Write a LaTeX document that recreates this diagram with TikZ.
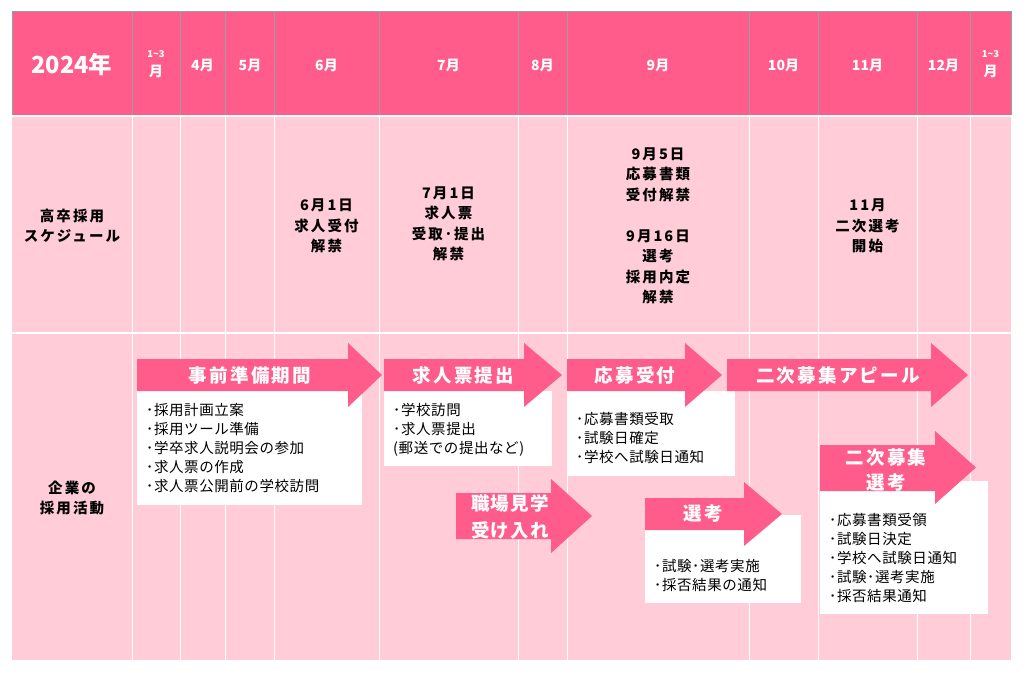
\documentclass[tikz,border=0pt]{standalone}
\usepackage{fontspec}
\setmainfont{Noto Sans CJK JP}
\definecolor{hdrpink}{RGB}{255,92,139}
\definecolor{bodypink}{RGB}{255,204,216}
\definecolor{gridgray}{RGB}{150,160,160}
\tikzset{
  hdr/.style={text=white,font=\bfseries\fontsize{14}{16}\selectfont,inner sep=0pt},
  hdrsmall/.style={text=white,font=\bfseries\fontsize{9.5}{11}\selectfont,inner sep=0pt},
  sched/.style={align=center,inner sep=0pt,font=\bfseries\fontsize{14.5}{20.5}\selectfont\addfontfeatures{LetterSpace=14}},
  arrtxt/.style={text=white,align=center,inner sep=0pt,font=\bfseries\fontsize{18.5}{27}\selectfont\addfontfeatures{LetterSpace=12}},
  boxtxt/.style={align=left,anchor=north west,inner sep=0pt,font=\fontsize{14.5}{19}\selectfont\addfontfeatures{LetterSpace=4}},
  whitebox/.style={fill=white},
  arrowfill/.style={fill=hdrpink}
}
\begin{document}
\begin{tikzpicture}[x=1pt,y=-1pt]
\useasboundingbox (0,0) rectangle (1027,676);
\fill[white] (0,0) rectangle (1027,676);
% header
\fill[hdrpink] (12,11) rectangle (1011,115);
\draw[gridgray,line width=0.8pt] (12,11) -- (1011,11);
\foreach \x in {12,132,180,225,274,379,518,567,749,818,917,970,1011}
  \draw[gridgray,line width=0.8pt] (\x,11) -- (\x,115);
% body
\fill[bodypink] (12,117) rectangle (1011,660);
\foreach \x in {132,180,225,274,379,518,567,749,818,917,970}
  \draw[white,line width=1pt] (\x,117) -- (\x,660);
\draw[white,line width=1.2pt] (12,333) -- (1011,333);
% header texts
\node[hdr,font=\bfseries\fontsize{23.5}{25}\selectfont] (year) at (72,65) {2024年};
\node[hdrsmall] (m13a) at (156,54) {1\textasciitilde 3};
\node[hdr] (m13b) at (156,71) {月};
\node[hdr] (m4) at (202.5,65) {4月};
\node[hdr] (m5) at (250,65) {5月};
\node[hdr] (m6) at (326.5,65) {6月};
\node[hdr] (m7) at (448.5,65) {7月};
\node[hdr] (m8) at (542.5,65) {8月};
\node[hdr] (m9) at (658,65) {9月};
\node[hdr] (m10) at (783.5,65) {10月};
\node[hdr] (m11) at (867.5,65) {11月};
\node[hdr] (m12) at (943.5,65) {12月};
\node[hdrsmall] (n13a) at (990.5,54) {1\textasciitilde 3};
\node[hdr] (n13b) at (990.5,71) {月};
% row labels
\node[sched] (lab1) at (72,226) {高卒採用\\スケジュール};
\node[sched] (lab2) at (72,498) {企業の\\採用活動};
% schedule texts
\node[sched] (s6) at (326.5,226) {6月1日\\求人受付\\解禁};
\node[sched] (s7) at (448.5,224) {7月1日\\求人票\\受取･提出\\解禁};
\node[sched] (s9) at (658,226) {9月5日\\応募書類\\受付解禁\\[20.5pt]9月16日\\選考\\採用内定\\解禁};
\node[sched] (s11) at (867.5,226) {11月\\二次選考\\開始};
% boxes
\fill[whitebox] (137,391) rectangle (362,505);
\fill[whitebox] (384,391) rectangle (552,466);
\fill[whitebox] (567,391) rectangle (735,476);
\fill[whitebox] (645,515) rectangle (801,603);
\fill[whitebox] (820,481) rectangle (988,614);
% arrows
\fill[arrowfill] (137,359) -- (348,359) -- (348,343) -- (382,375) -- (348,407) -- (348,391) -- (137,391) -- cycle;
\fill[arrowfill] (384,359) -- (524,359) -- (524,343) -- (562,375) -- (524,407) -- (524,391) -- (384,391) -- cycle;
\fill[arrowfill] (567,359) -- (685,359) -- (685,343) -- (722,375) -- (685,407) -- (685,391) -- (567,391) -- cycle;
\fill[arrowfill] (727,359) -- (931,359) -- (931,343) -- (968,375) -- (931,407) -- (931,391) -- (727,391) -- cycle;
\fill[arrowfill] (456,493) -- (551,493) -- (551,479) -- (592,516) -- (551,553) -- (551,539) -- (456,539) -- cycle;
\fill[arrowfill] (645,498) -- (744,498) -- (744,482) -- (782,514) -- (744,546) -- (744,530) -- (645,530) -- cycle;
\fill[arrowfill] (820,445) -- (935,445) -- (935,431) -- (976,467.5) -- (935,504) -- (935,491) -- (820,491) -- cycle;
% arrow texts
\node[arrtxt] (a1) at (250,375) {事前準備期間};
\node[arrtxt] (a2) at (463.5,375) {求人票提出};
\node[arrtxt] (a3) at (635,375) {応募受付};
\node[arrtxt] (a4) at (838,375) {二次募集アピール};
\node[arrtxt,font=\bfseries\fontsize{18.5}{27}\selectfont\addfontfeatures{LetterSpace=6}] (a5) at (510,516.5) {職場見学\\受け入れ};
\node[arrtxt] (a6) at (703,513) {選考};
\node[arrtxt,font=\bfseries\fontsize{18.5}{25}\selectfont\addfontfeatures{LetterSpace=12}] (a7) at (886,469.5) {二次募集\\選考};
% box texts
\node[boxtxt] (b1) at (146,403) {･採用計画立案\\･採用ツール準備\\･学卒求人説明会の参加\\･求人票の作成\\･求人票公開前の学校訪問};
\node[boxtxt] (b2) at (393,403) {･学校訪問\\･求人票提出\\(郵送での提出など)};
\node[boxtxt] (b3) at (576,412) {･応募書類受取\\･試験日確定\\･学校へ試験日通知};
\node[boxtxt] (b6) at (654,559) {･試験･選考実施\\･採否結果の通知};
\node[boxtxt] (b7) at (829,513) {･応募書類受領\\･試験日決定\\･学校へ試験日通知\\･試験･選考実施\\･採否結果通知};
\end{tikzpicture}
\end{document}
